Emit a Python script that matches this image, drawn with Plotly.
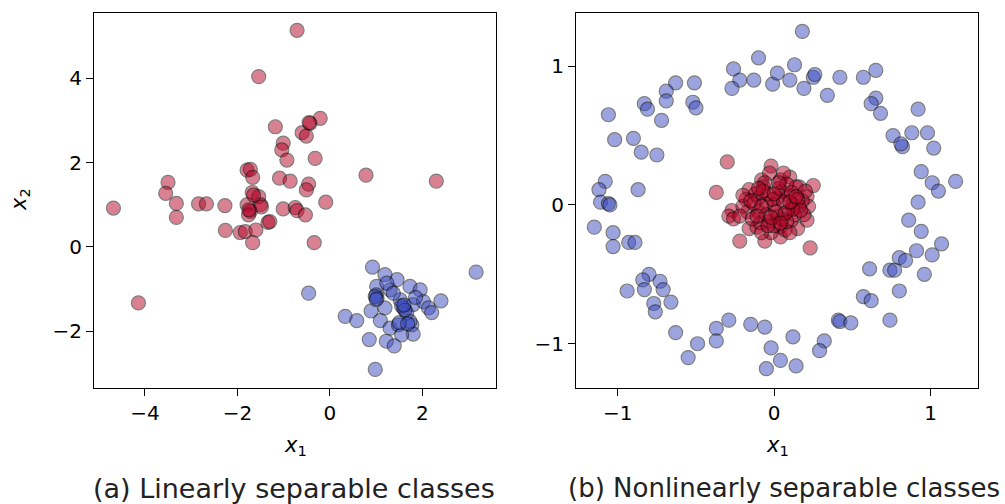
import plotly.graph_objects as go

# ---------------- data ----------------
lin_red_x = [-0.71, -1.54, -1.18, -0.21, -0.43, -0.60, -0.51, -1.01, -1.04, -0.93, -0.32,
             -1.79, -1.72, -1.67, -1.09, -0.86, -0.46, -0.51, -3.50, -3.55, -1.68, -1.54,
             -0.09, -4.68, -3.32, -2.84, -2.67, -2.27, -1.79, -1.50, -1.01, -0.75, -0.71,
             -0.53, -3.32, -1.72, -1.76, -1.34, -1.30, -2.26, -1.94, -1.83, -1.60, -1.67,
             -0.34, -4.14, 0.78, 2.30, -1.65, -1.48, -1.75, -0.45]
lin_red_y = [5.14, 4.04, 2.85, 3.05, 2.93, 2.71, 2.63, 2.46, 2.30, 2.06, 2.10,
             1.82, 1.84, 1.65, 1.63, 1.56, 1.49, 1.35, 1.53, 1.27, 1.29, 1.19,
             1.06, 0.92, 1.03, 1.02, 1.02, 0.98, 1.00, 1.00, 0.90, 0.93, 0.86,
             0.76, 0.70, 0.84, 0.76, 0.58, 0.60, 0.39, 0.34, 0.36, 0.40, 0.10,
             0.10, -1.33, 1.70, 1.56, 1.23, 0.95, 0.88, 2.95]

lin_blue_x = [-0.46, 0.33, 3.16, 0.92, 1.19, 1.45, 1.01, 1.30, 1.73, 1.95, 1.00, 1.02,
              0.98, 1.52, 1.59, 1.80, 2.02, 2.13, 2.20, 2.40, 1.19, 0.89, 0.58, 1.09,
              1.30, 1.48, 1.77, 1.80, 1.55, 0.85, 1.22, 1.39, 0.98, 1.66, 1.73, 1.23,
              1.37, 1.55, 1.62, 1.50, 1.85, 1.00, 1.60, 1.68]
lin_blue_y = [-1.10, -1.65, -0.60, -0.48, -0.66, -0.78, -0.94, -1.02, -0.94, -1.02, -1.14, -1.22,
              -1.18, -1.26, -1.45, -1.37, -1.30, -1.45, -1.56, -1.28, -1.45, -1.52, -1.75, -1.75,
              -1.93, -1.85, -1.85, -2.07, -2.09, -2.20, -2.24, -2.35, -2.91, -1.57, -1.77, -0.86,
              -1.10, -1.40, -1.50, -1.80, -1.20, -1.25, -1.38, -1.83]

circ_blue_x = [-0.10, -0.26, -0.22, -0.27, -0.13, -0.01, 0.02, -0.63, -0.69, -0.69, -0.51, -0.52,
               -0.50, -0.83, -0.81, -0.72, -1.06, -1.02, -0.90, -0.85, -0.75, -1.08, -1.12, -0.87,
               -1.11, -1.06, -1.05,
               0.18, 0.13, 0.10, 0.19, 0.25, 0.26, 0.34, 0.42, 0.57, 0.65, 0.65, 0.62, 0.68,
               0.92, 0.76, 0.82, 0.81, 0.88, 0.98, 1.02, 0.94, 1.01, 1.05, 1.16, 0.92,
               -1.15, -1.03, -1.03, -0.93, -0.89, -0.80, -0.84, -0.73, -0.71, -0.83, -0.94, -0.77,
               -0.76, -0.66, -0.63, -0.49, -0.55, -0.37, -0.37, -0.29, -0.15, -0.06, -0.02, -0.05,
               0.86, 0.94, 1.07, 0.91, 1.01, 0.80, 0.84, 0.74, 0.77, 0.96, 0.61, 0.80, 0.57, 0.62,
               0.74, 0.41, 0.42, 0.49, 0.32, 0.29, 0.12, 0.04, 0.14]
circ_blue_y = [1.06, 0.98, 0.90, 0.84, 0.90, 0.87, 0.95, 0.88, 0.82, 0.75, 0.88, 0.74,
               0.70, 0.73, 0.69, 0.61, 0.65, 0.47, 0.48, 0.38, 0.36, 0.17, 0.11, 0.11,
               0.02, 0.01, 0.00,
               1.25, 1.01, 0.90, 0.84, 0.92, 0.94, 0.79, 0.92, 0.92, 0.97, 0.77, 0.73, 0.66,
               0.69, 0.50, 0.42, 0.44, 0.52, 0.52, 0.41, 0.24, 0.16, 0.10, 0.17, 0.02,
               -0.16, -0.20, -0.30, -0.27, -0.27, -0.50, -0.54, -0.55, -0.61, -0.61, -0.62, -0.71,
               -0.77, -0.70, -0.92, -1.00, -1.10, -0.89, -0.98, -0.83, -0.86, -0.88, -1.03, -1.18,
               -0.11, -0.19, -0.28, -0.33, -0.36, -0.38, -0.40, -0.47, -0.47, -0.50, -0.46, -0.62,
               -0.66, -0.69, -0.83, -0.83, -0.84, -0.85, -0.98, -1.05, -0.95, -1.12, -1.16]

circ_red_x = [-0.30, -0.02, -0.37, -0.22, -0.06, 0.23, 0.25,
              -0.27, -0.29, -0.26, -0.16, -0.18, -0.08, 0.04, 0.10, 0.16, -0.05, 0.02, 0.09,
              0.14, 0.21, 0.22, 0.09, 0.02, -0.03, -0.17, -0.10, -0.16, -0.11, 0.04, 0.15,
              0.21, 0.04, -0.02, 0.19, 0.16, -0.09, -0.07, -0.03, 0.06, -0.20, -0.22, 0.11,
              0.00, 0.05, -0.10, 0.12, -0.05, 0.07, -0.12, 0.03, 0.18, -0.14, 0.08, -0.04,
              0.13, -0.08, 0.00, 0.10, -0.20, 0.20, -0.06, 0.05,
              -0.01, 0.06, -0.07, 0.11, -0.13, 0.01, 0.08, -0.04, 0.15, -0.10, 0.03, 0.12,
              -0.02, 0.07, -0.15, 0.17, 0.00, -0.08, 0.10, 0.04, -0.11, 0.14]
circ_red_y = [0.31, 0.28, 0.09, -0.26, -0.26, -0.31, 0.14,
              -0.04, -0.08, -0.10, 0.11, 0.04, 0.18, 0.18, 0.20, 0.13, 0.01, 0.05, 0.07,
              0.13, 0.06, -0.01, -0.04, -0.08, -0.12, -0.05, -0.05, -0.17, -0.16, -0.16, -0.17,
              -0.11, -0.23, -0.20, -0.07, -0.01, -0.13, 0.13, 0.23, 0.23, -0.01, -0.08, -0.11,
              0.00, 0.10, 0.05, 0.00, -0.07, -0.18, 0.08, 0.12, 0.03, -0.10, 0.15, 0.08,
              -0.07, -0.20, -0.15, -0.20, 0.07, 0.10, 0.16, -0.10,
              0.04, 0.02, 0.10, 0.09, 0.01, -0.05, -0.12, -0.15, 0.04, 0.12, 0.16, -0.03,
              -0.09, -0.06, 0.03, -0.04, 0.08, -0.01, 0.02, -0.13, -0.08, 0.06]

x_ticks_a = [-4, -2, 0, 2]
y_ticks_a = [-2, 0, 2, 4]
x_ticks_b = [-1, 0, 1]
y_ticks_b = [-1, 0, 1]
captions = ["(a) Linearly separable classes", "(b) Nonlinearly separable classes"]

# ---------------- styling ----------------
W, H = 1005, 504
RED = "#b40426"
BLUE = "#3b4cc0"
FONT = "DejaVu Sans"


def px_x(p):
    return p / W


def px_y(p):
    return 1 - p / H


def marker(color):
    return dict(size=14, color=color, opacity=0.5,
                line=dict(color="black", width=1.2))


def tick_text(vals):
    return ["\u2212" + str(-v) if v < 0 else str(v) for v in vals]


fig = go.Figure()
fig.add_trace(go.Scatter(x=lin_red_x, y=lin_red_y, mode="markers", marker=marker(RED),
                         xaxis="x", yaxis="y", showlegend=False))
fig.add_trace(go.Scatter(x=lin_blue_x, y=lin_blue_y, mode="markers", marker=marker(BLUE),
                         xaxis="x", yaxis="y", showlegend=False))
fig.add_trace(go.Scatter(x=circ_blue_x, y=circ_blue_y, mode="markers", marker=marker(BLUE),
                         xaxis="x2", yaxis="y2", showlegend=False))
fig.add_trace(go.Scatter(x=circ_red_x, y=circ_red_y, mode="markers", marker=marker(RED),
                         xaxis="x2", yaxis="y2", showlegend=False))

axis_common = dict(showgrid=False, zeroline=False, showline=True, linecolor="black",
                   linewidth=1.2, mirror=True, ticks="outside", ticklen=7, tickwidth=1.2,
                   tickcolor="black", tickfont=dict(family=FONT, size=20, color="black"))

y_top, y_bot = 13, 388
fig.update_layout(
    width=W, height=H,
    margin=dict(l=0, r=0, t=0, b=0),
    paper_bgcolor="white", plot_bgcolor="white",
    font=dict(family=FONT, color="black"),
    xaxis=dict(domain=[px_x(94), px_x(496)], range=[-5.10, 3.59], anchor="y",
               tickvals=x_ticks_a, ticktext=tick_text(x_ticks_a), **axis_common),
    yaxis=dict(domain=[px_y(y_bot), px_y(y_top)], range=[-3.35, 5.55], anchor="x",
               tickvals=y_ticks_a, ticktext=tick_text(y_ticks_a), **axis_common),
    xaxis2=dict(domain=[px_x(576), px_x(978)], range=[-1.267, 1.303], anchor="y2",
                tickvals=x_ticks_b, ticktext=tick_text(x_ticks_b), **axis_common),
    yaxis2=dict(domain=[px_y(y_bot), px_y(y_top)], range=[-1.319, 1.383], anchor="x2",
                tickvals=y_ticks_b, ticktext=tick_text(y_ticks_b), **axis_common),
)

ann = []
# axis labels
for cx in (295, 777):
    ann.append(dict(x=px_x(cx), y=px_y(446), xref="paper", yref="paper", showarrow=False,
                    text="<i>x</i><sub>1</sub>", font=dict(family=FONT, size=21, color="black"),
                    xanchor="center", yanchor="middle"))
ann.append(dict(x=px_x(20), y=px_y(200), xref="paper", yref="paper", showarrow=False,
                text="<i>x</i><sub>2</sub>", textangle=-90,
                font=dict(family=FONT, size=21, color="black"),
                xanchor="center", yanchor="middle"))
# captions
ann.append(dict(x=px_x(294), y=px_y(488), xref="paper", yref="paper", showarrow=False,
                text=captions[0], font=dict(family=FONT, size=27, color="#222222"),
                xanchor="center", yanchor="middle"))
ann.append(dict(x=px_x(784), y=px_y(488), xref="paper", yref="paper", showarrow=False,
                text=captions[1], font=dict(family=FONT, size=26, color="#222222"),
                xanchor="center", yanchor="middle"))
fig.update_layout(annotations=ann)

fig.write_html("out.html", config={"displayModeBar": False},
               post_script="document.body.style.margin='0';")
